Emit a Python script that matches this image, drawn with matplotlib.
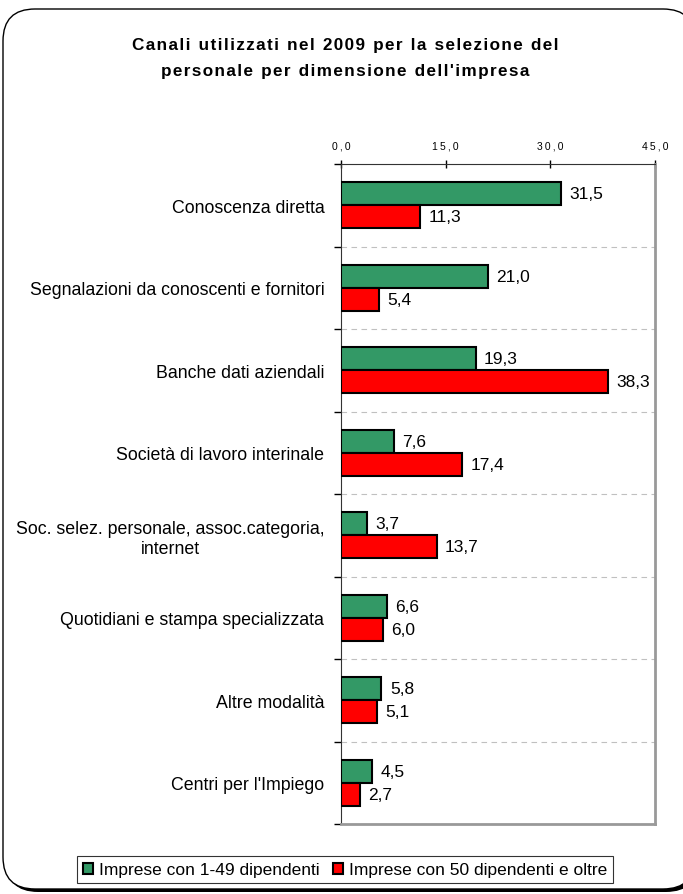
import numpy as np
import matplotlib.pyplot as plt
from matplotlib.patches import FancyBboxPatch

plt.rcParams['font.family'] = ['Liberation Sans', 'DejaVu Sans']

categories = ['Conoscenza diretta',
              'Segnalazioni da conoscenti e fornitori',
              'Banche dati aziendali',
              'Società di lavoro interinale',
              'Soc. selez. personale, assoc.categoria,\ninternet',
              'Quotidiani e stampa specializzata',
              'Altre modalità',
              "Centri per l'Impiego"]
small = [31.5, 21.0, 19.3, 7.6, 3.7, 6.6, 5.8, 4.5]
large = [11.3, 5.4, 38.3, 17.4, 13.7, 6.0, 5.1, 2.7]
series_names = ['Imprese con 1-49 dipendenti', 'Imprese con 50 dipendenti e oltre']
ticks = [0, 15, 30, 45]
title_lines = ['Canali utilizzati nel 2009 per la selezione del',
               "personale per dimensione dell'impresa"]


def spaced(s, sep='\u2009'):
    # letter-spaced text, like the original
    return sep.join(s)


def spaced_title(s):
    return '\u2009 '.join(spaced(w, '\u200a') for w in s.split(' '))


fig = plt.figure(figsize=(6.83, 8.95), dpi=100)

# rounded frame with shadow (inches)
shadow = FancyBboxPatch((0.06, 0.02), 6.92, 8.80, boxstyle='round,pad=0,rounding_size=0.32',
                        transform=fig.dpi_scale_trans, facecolor='black', edgecolor='none', zorder=0)
frame = FancyBboxPatch((0.03, 0.05), 6.92, 8.80, boxstyle='round,pad=0,rounding_size=0.32',
                       transform=fig.dpi_scale_trans, facecolor='white', edgecolor='black', lw=1.0, zorder=1)
fig.patches.extend([shadow, frame])

ax = fig.add_axes([0.4993, 0.0782, 0.4597, 0.7374])
ax.set_zorder(2)

y = np.arange(len(categories))
h = 0.28
ax.barh(y - h / 2, small, height=h, color='#339966', edgecolor='black', lw=1.5, zorder=3)
ax.barh(y + h / 2, large, height=h, color='#ff0000', edgecolor='black', lw=1.5, zorder=3)

for i in range(len(categories)):
    ax.text(small[i] + 1.2, y[i] - h / 2, f'{small[i]:.1f}'.replace('.', ','),
            va='center', ha='left', fontsize=12.5)
    ax.text(large[i] + 1.2, y[i] + h / 2, f'{large[i]:.1f}'.replace('.', ','),
            va='center', ha='left', fontsize=12.5)

ax.set_xlim(0, 45)
ax.set_ylim(len(categories) - 0.5, -0.5)
ax.xaxis.tick_top()
ax.set_xticks(ticks)
ax.set_xticklabels([spaced(f'{t:.1f}'.replace('.', ',')) for t in ticks], fontsize=7.5)
ax.tick_params(axis='x', direction='inout', length=6, width=1, pad=7)

ax.set_yticks(y)
ax.set_yticklabels(categories, fontsize=12.8, multialignment='center')
ax.set_yticks(np.arange(len(categories) + 1) - 0.5, minor=True)
ax.tick_params(axis='y', which='major', length=0, pad=12)
ax.tick_params(axis='y', which='minor', direction='out', length=5, width=1)
ax.grid(axis='y', which='minor', color='#c0c0c0', linestyle=(0, (5, 4)), lw=0.8)

ax.spines['left'].set_color('#333333')
ax.spines['top'].set_color('#333333')
ax.spines['right'].set_color('#999999')
ax.spines['bottom'].set_color('#999999')
ax.spines['right'].set_linewidth(2)
ax.spines['bottom'].set_linewidth(2)

fig.text(0.505, 0.9497, spaced_title(title_lines[0]), ha='center', va='center',
         fontsize=12.3, fontweight='bold')
fig.text(0.505, 0.9196, spaced_title(title_lines[1]), ha='center', va='center',
         fontsize=12.3, fontweight='bold')

handles = [plt.Rectangle((0, 0), 1, 1, facecolor='#339966', edgecolor='black', lw=1.5),
           plt.Rectangle((0, 0), 1, 1, facecolor='#ff0000', edgecolor='black', lw=1.5)]
leg = fig.legend(handles, series_names, loc='center', bbox_to_anchor=(0.505, 0.027), ncol=2,
                 fontsize=12.5, frameon=True, fancybox=False, edgecolor='black',
                 handlelength=0.6, handleheight=0.6, handletextpad=0.3, columnspacing=0.8,
                 borderpad=0.35)
leg.get_frame().set_linewidth(0.8)
leg.set_zorder(5)

fig.savefig('out.png', dpi=100)
